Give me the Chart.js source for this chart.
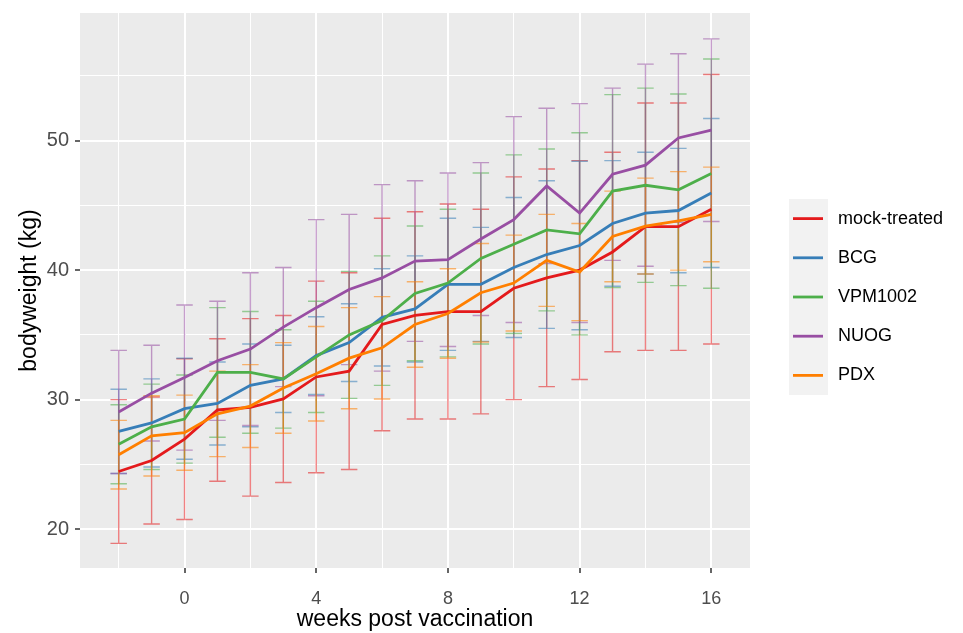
<!DOCTYPE html>
<html>
<head>
<meta charset="utf-8">
<title>Bodyweight after vaccination</title>
<script src="https://cdn.jsdelivr.net/npm/chart.js@4.4.1/dist/chart.umd.min.js"></script>
<style>
    html, body { margin: 0; padding: 0; background: #fff; }
    canvas { display: block; }
</style>
</head>
<body>
<canvas id="weightChart" width="963" height="633"></canvas>
<script>
// weeks relative to vaccination
const weeks = [-2, -1, 0, 1, 2, 3, 4, 5, 6, 7, 8, 9, 10, 11, 12, 13, 14, 15, 16];

// group means and standard deviations, kg
const mockMean = [24.45, 25.3, 26.95, 29.2, 29.4, 30.05, 31.75, 32.2, 35.8, 36.5, 36.8, 36.8, 38.6, 39.4, 40.0, 41.4, 43.35, 43.35, 44.7];
const mockSd   = [5.55, 4.9, 6.2, 5.5, 6.85, 6.45, 7.4, 7.6, 8.2, 8.0, 8.3, 7.9, 8.6, 8.4, 8.45, 7.7, 9.55, 9.55, 10.4];

const bcgMean = [27.55, 28.2, 29.3, 29.7, 31.1, 31.6, 33.4, 34.4, 36.35, 37.0, 38.9, 38.9, 40.2, 41.2, 41.9, 43.6, 44.4, 44.6, 45.95];
const bcgSd   = [3.25, 3.4, 3.9, 3.2, 3.2, 2.6, 3.0, 3.0, 3.75, 4.1, 5.1, 4.4, 5.4, 5.7, 6.5, 4.85, 4.7, 4.8, 5.75];

const vpmMean = [26.55, 27.9, 28.5, 32.1, 32.1, 31.6, 33.3, 35.0, 36.1, 38.2, 39.0, 40.9, 42.0, 43.1, 42.8, 46.1, 46.55, 46.2, 47.45];
const vpmSd   = [3.05, 3.3, 3.4, 5.0, 4.7, 3.8, 4.3, 4.9, 5.0, 5.2, 5.7, 6.6, 6.9, 6.25, 7.8, 7.45, 7.5, 7.4, 8.85];

const nuogMean = [29.05, 30.5, 31.7, 33.0, 33.9, 35.6, 37.1, 38.5, 39.4, 40.7, 40.8, 42.4, 43.9, 46.5, 44.4, 47.4, 48.1, 50.2, 50.8];
const nuogSd   = [4.75, 3.7, 5.6, 4.6, 5.9, 4.6, 6.8, 5.8, 7.2, 6.2, 6.7, 5.9, 7.95, 6.0, 8.45, 6.65, 7.8, 6.5, 7.05];

const pdxMean = [25.75, 27.2, 27.45, 28.9, 29.5, 30.9, 32.0, 33.2, 34.0, 35.8, 36.65, 38.25, 39.0, 40.75, 39.85, 42.6, 43.4, 43.8, 44.3];
const pdxSd   = [2.65, 3.1, 2.9, 3.3, 3.2, 3.5, 3.65, 3.9, 3.95, 3.3, 3.45, 3.8, 3.7, 3.55, 3.75, 3.5, 3.7, 3.8, 3.65];

const groupNames = ['mock-treated', 'BCG', 'VPM1002', 'NUOG', 'PDX'];
const groupColors = ['#E41A1C', '#377EB8', '#4DAF4A', '#984EA3', '#FF7F00'];
const groupMeans = [mockMean, bcgMean, vpmMean, nuogMean, pdxMean];
const groupSds = [mockSd, bcgSd, vpmSd, nuogSd, pdxSd];

const yTickLabels = [20, 30, 40, 50];
const yMinorTicks = [25, 35, 45, 55];
const xTickLabels = [0, 4, 8, 12, 16];
const xMinorTicks = [-2, 2, 6, 10, 14];

const FONT = "'Liberation Sans', Arial, sans-serif";

function withAlpha(hex, a) {
    const n = parseInt(hex.slice(1), 16);
    return `rgba(${(n >> 16) & 255}, ${(n >> 8) & 255}, ${n & 255}, ${a})`;
}

// grey panel behind the grid
const panelBackground = {
    id: 'panelBackground',
    beforeDraw(chart) {
        const { ctx, chartArea: a } = chart;
        ctx.save();
        ctx.fillStyle = '#EBEBEB';
        ctx.fillRect(a.left, a.top, a.right - a.left, a.bottom - a.top);
        ctx.restore();
    }
};

// mean +/- sd bars, drawn under the lines
const errorBars = {
    id: 'errorBars',
    beforeDatasetsDraw(chart) {
        const { ctx, scales: { x, y } } = chart;
        const capHalf = 0.25;
        ctx.save();
        ctx.lineWidth = 1.4;
        chart.data.datasets.forEach((ds) => {
            ctx.strokeStyle = withAlpha(ds.borderColor, 0.55);
            ds.sd.forEach((sd, i) => {
                const w = ds.data[i].x;
                const m = ds.data[i].y;
                const px = x.getPixelForValue(w);
                const lo = y.getPixelForValue(m - sd);
                const hi = y.getPixelForValue(m + sd);
                const l = x.getPixelForValue(w - capHalf);
                const r = x.getPixelForValue(w + capHalf);
                ctx.beginPath();
                ctx.moveTo(px, lo); ctx.lineTo(px, hi);
                ctx.moveTo(l, lo); ctx.lineTo(r, lo);
                ctx.moveTo(l, hi); ctx.lineTo(r, hi);
                ctx.stroke();
            });
        });
        ctx.restore();
    }
};

// legend on the right with grey key column
const sideLegend = {
    id: 'sideLegend',
    afterDraw(chart) {
        const { ctx } = chart;
        const keyLeft = 789, keyWidth = 39, top = 199, step = 39.2;
        ctx.save();
        ctx.fillStyle = '#F2F2F2';
        ctx.fillRect(keyLeft, top, keyWidth, step * chart.data.datasets.length);
        chart.data.datasets.forEach((ds, i) => {
            const cy = top + step * (i + 0.5);
            ctx.strokeStyle = ds.borderColor;
            ctx.lineWidth = 2.8;
            ctx.beginPath();
            ctx.moveTo(keyLeft + 4, cy);
            ctx.lineTo(keyLeft + keyWidth - 5, cy);
            ctx.stroke();
            ctx.fillStyle = '#000';
            ctx.font = `18px ${FONT}`;
            ctx.textBaseline = 'middle';
            ctx.fillText(ds.label, 838, cy);
        });
        ctx.restore();
    }
};

const datasets = groupNames.map((name, g) => ({
    label: name,
    data: weeks.map((w, i) => ({ x: w, y: groupMeans[g][i] })),
    sd: groupSds[g],
    borderColor: groupColors[g],
    backgroundColor: groupColors[g],
    borderWidth: 2.8,
    pointRadius: 0,
    tension: 0,
    order: groupNames.length - g
}));

const isOn = (list, c) => c.tick && list.includes(c.tick.value);

new Chart(document.getElementById('weightChart'), {
    type: 'line',
    data: { datasets },
    options: {
        responsive: false,
        animation: false,
        layout: { padding: { left: 0, right: 213, top: 13, bottom: 0 } },
        plugins: { legend: { display: false }, tooltip: { enabled: false } },
        scales: {
            x: {
                type: 'linear',
                min: -3.175,
                max: 17.175,
                afterBuildTicks: s => {
                    s.ticks = [...xMinorTicks, ...xTickLabels].sort((a, b) => a - b).map(v => ({ value: v }));
                },
                afterFit: s => { s.height = 65; s.paddingLeft = 0; s.paddingRight = 0; },
                border: { display: false },
                grid: {
                    color: '#FFFFFF',
                    lineWidth: c => isOn(xTickLabels, c) ? 2 : 1,
                    tickColor: c => isOn(xTickLabels, c) ? '#333333' : 'rgba(0,0,0,0)',
                    tickLength: 5,
                    tickWidth: 1.5
                },
                ticks: {
                    autoSkip: false,
                    maxRotation: 0,
                    padding: 15,
                    color: '#4D4D4D',
                    font: { family: FONT, size: 18 },
                    callback: v => xTickLabels.includes(v) ? String(v) : ''
                },
                title: {
                    display: true,
                    text: 'weeks post vaccination',
                    color: '#000',
                    font: { family: FONT, size: 23 },
                    padding: { top: 0, bottom: 0 }
                }
            },
            y: {
                min: 17.0,
                max: 59.85,
                afterBuildTicks: s => {
                    s.ticks = [...yTickLabels, ...yMinorTicks].sort((a, b) => a - b).map(v => ({ value: v }));
                },
                afterFit: s => { s.width = 80; s.paddingTop = 0; s.paddingBottom = 0; },
                border: { display: false },
                grid: {
                    color: '#FFFFFF',
                    lineWidth: c => isOn(yTickLabels, c) ? 2 : 1,
                    tickColor: c => isOn(yTickLabels, c) ? '#333333' : 'rgba(0,0,0,0)',
                    tickLength: 5,
                    tickWidth: 1.5
                },
                ticks: {
                    autoSkip: false,
                    padding: 6,
                    color: '#4D4D4D',
                    font: { family: FONT, size: 20 },
                    callback: v => yTickLabels.includes(v) ? String(v) : ''
                },
                title: {
                    display: true,
                    text: 'bodyweight (kg)',
                    color: '#000',
                    font: { family: FONT, size: 23 },
                    padding: { top: 16, bottom: 0 }
                }
            }
        }
    },
    plugins: [panelBackground, errorBars, sideLegend]
});
</script>
</body>
</html>
